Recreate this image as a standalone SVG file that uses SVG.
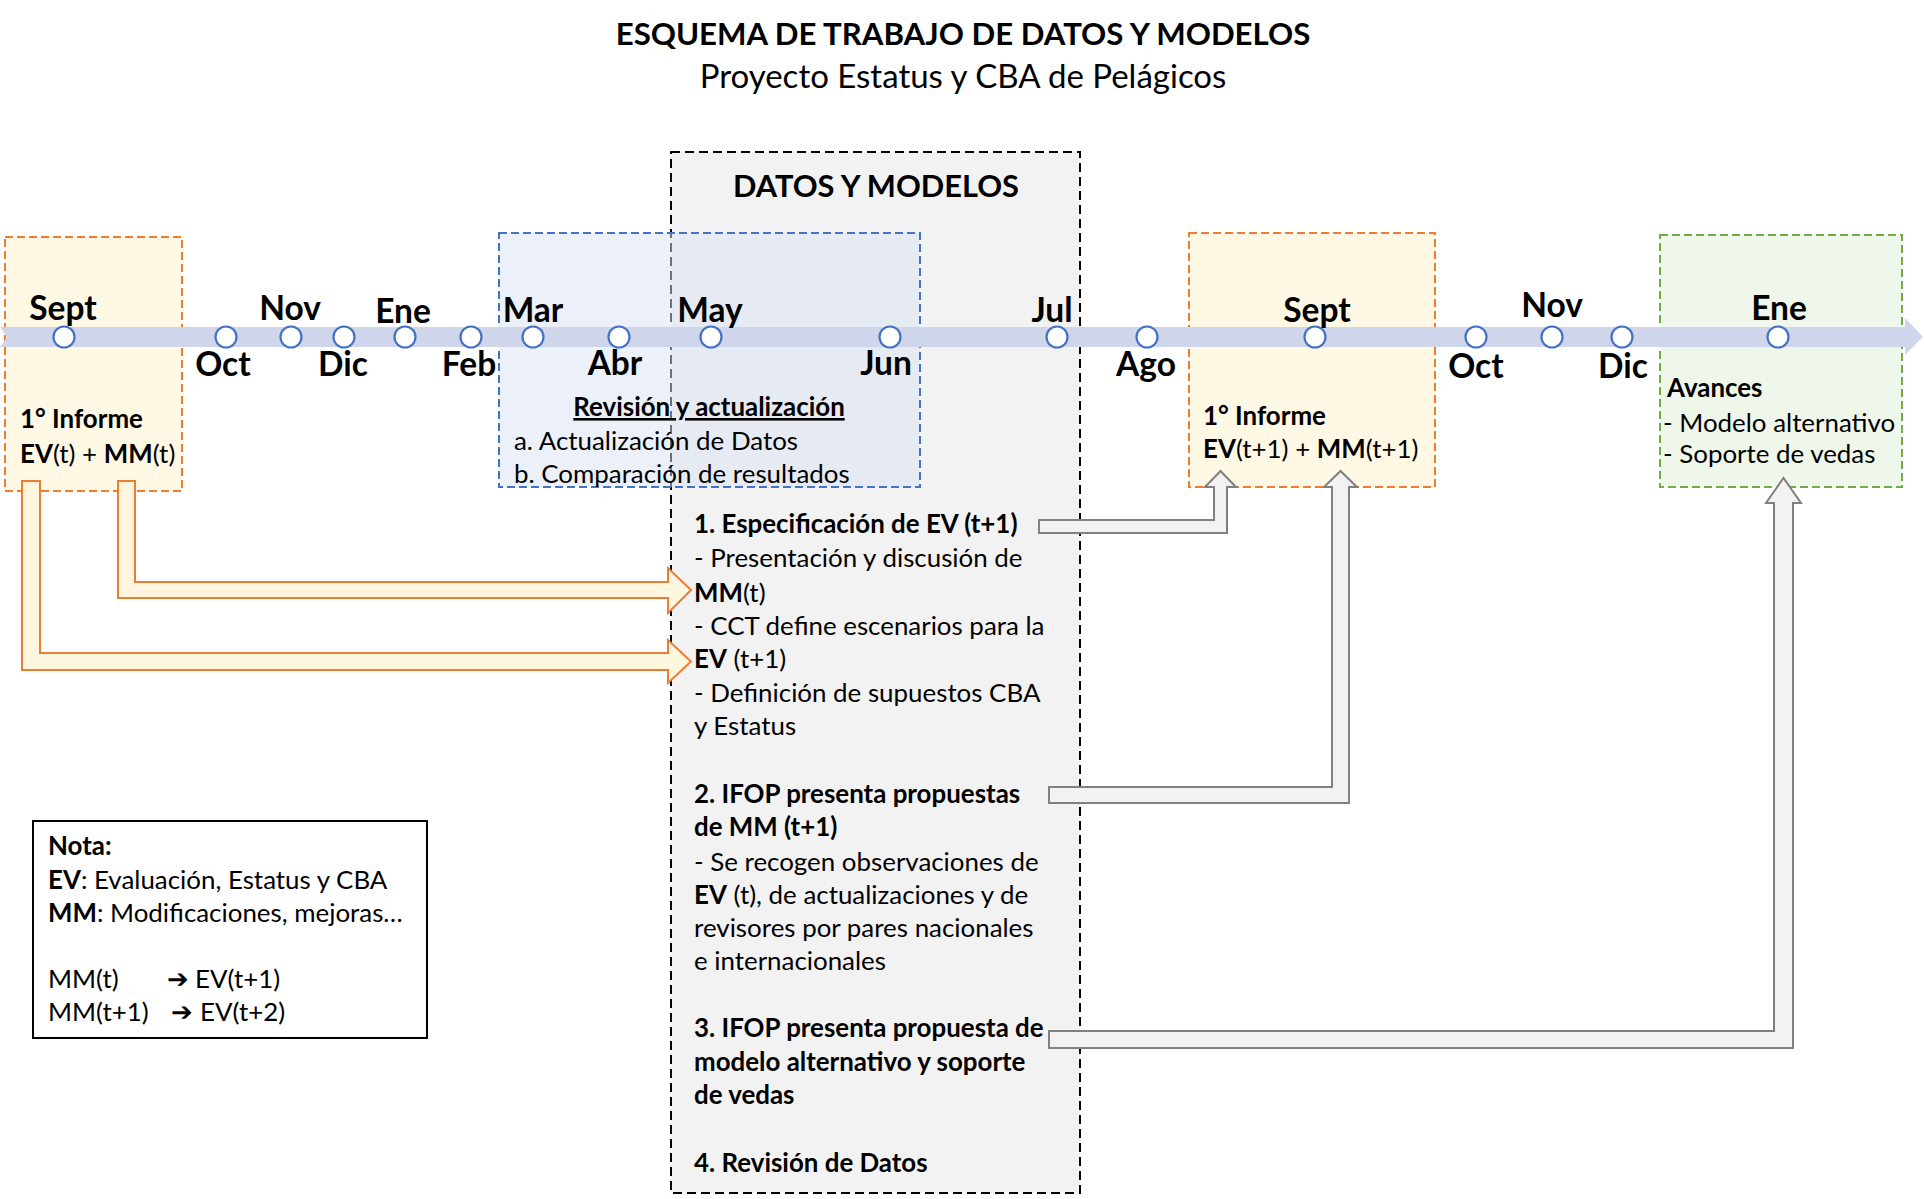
<svg xmlns="http://www.w3.org/2000/svg" width="1924" height="1199" viewBox="0 0 1924 1199">
<style>
text { font-family: Lato, "DejaVu Sans", sans-serif; fill: #000; }
.b { font-weight: 700; }
.t { font-size: 25.9px; }
.mon { font-size: 33.5px; font-weight: 700; text-anchor: middle; }
.box-o { fill: #fff8e5; stroke: #ed7d31; stroke-width: 2; stroke-dasharray: 8 4; }
.box-g { fill: #eff6ea; stroke: #70ad47; stroke-width: 2; stroke-dasharray: 8 4; }
.box-b { fill: #dae3f3; fill-opacity: 0.5; stroke: #4472c4; stroke-width: 2; stroke-dasharray: 8 4; }
.box-k { fill: #f2f2f2; stroke: #000; stroke-width: 2; stroke-dasharray: 9 5; }
.dot { fill: #fff; stroke: #4472c4; stroke-width: 2.2; }
.arr-o { fill: #fff6df; stroke: #ed7d31; stroke-width: 2; stroke-linejoin: miter; }
.arr-g { fill: #f2f2f2; stroke: #808080; stroke-width: 2; stroke-linejoin: miter; }
</style>
<rect x="0" y="0" width="1924" height="1199" fill="#fff"/>

<g id="title">
<text x="963" y="45" class="b" font-size="31.2" text-anchor="middle">ESQUEMA DE TRABAJO DE DATOS Y MODELOS</text>
<text x="963" y="88" font-size="33" text-anchor="middle">Proyecto Estatus y CBA de Pelágicos</text>
</g>

<g id="datos-modelos">
<rect class="box-k" x="671" y="152" width="409" height="1041"/>
<text x="876" y="197" class="b" font-size="30.8" text-anchor="middle">DATOS Y MODELOS</text>
<text class="t" x="694"><tspan class="b" x="694" y="533">1. Especificación de EV (t+1)</tspan><tspan x="694" y="567">- Presentación y discusión de</tspan><tspan x="694" y="602"><tspan class="b">MM</tspan>(t)</tspan><tspan x="694" y="635">- CCT define escenarios para la</tspan><tspan x="694" y="668"><tspan class="b">EV</tspan> (t+1)</tspan><tspan x="694" y="702">- Definición de supuestos CBA</tspan><tspan x="694" y="735">y Estatus</tspan><tspan class="b" x="694" y="803">2. IFOP presenta propuestas</tspan><tspan class="b" x="694" y="836">de MM (t+1)</tspan><tspan x="694" y="871">- Se recogen observaciones de</tspan><tspan x="694" y="904"><tspan class="b">EV</tspan> (t), de actualizaciones y de</tspan><tspan x="694" y="937">revisores por pares nacionales</tspan><tspan x="694" y="970">e internacionales</tspan><tspan class="b" x="694" y="1037">3. IFOP presenta propuesta de</tspan><tspan class="b" x="694" y="1071">modelo alternativo y soporte</tspan><tspan class="b" x="694" y="1104">de vedas</tspan><tspan class="b" x="694" y="1172">4. Revisión de Datos</tspan></text>
</g>

<g id="revision">
<rect class="box-b" x="499" y="233" width="421" height="254"/>
<text class="t b" x="709" y="416" text-anchor="middle" text-decoration="underline">Revisión y actualización</text>
<text class="t" x="514" y="450">a. Actualización de Datos</text>
<text class="t" x="514" y="483">b. Comparación de resultados</text>
</g>

<g id="informe-t">
<rect class="box-o" x="5" y="237" width="177" height="254"/>
<text class="t b" x="20" y="428">1° Informe</text>
<text class="t" x="20" y="463"><tspan class="b">EV</tspan>(t) + <tspan class="b">MM</tspan>(t)</text>
</g>

<g id="informe-t1">
<rect class="box-o" x="1189" y="233" width="246" height="254"/>
<text class="t b" x="1203" y="425">1° Informe</text>
<text class="t" x="1203" y="458"><tspan class="b">EV</tspan>(t+1) + <tspan class="b">MM</tspan>(t+1)</text>
</g>

<g id="avances">
<rect class="box-g" x="1660" y="235" width="242" height="252"/>
<text class="t b" x="1667" y="397">Avances</text>
<text class="t" x="1663" y="432">- Modelo alternativo</text>
<text class="t" x="1663" y="463">- Soporte de vedas</text>
</g>

<g id="timeline">
<path d="M0,327 H1905 V318 L1923,337 L1905,355 V347 H0 L7,337 Z" fill="#cfd5ea"/>
<circle class="dot" cx="64" cy="337" r="10.5"/>
<circle class="dot" cx="226" cy="337" r="10.5"/>
<circle class="dot" cx="291" cy="337" r="10.5"/>
<circle class="dot" cx="344" cy="337" r="10.5"/>
<circle class="dot" cx="405" cy="337" r="10.5"/>
<circle class="dot" cx="471" cy="337" r="10.5"/>
<circle class="dot" cx="533" cy="337" r="10.5"/>
<circle class="dot" cx="619" cy="337" r="10.5"/>
<circle class="dot" cx="711" cy="337" r="10.5"/>
<circle class="dot" cx="890" cy="337" r="10.5"/>
<circle class="dot" cx="1057" cy="337" r="10.5"/>
<circle class="dot" cx="1147" cy="337" r="10.5"/>
<circle class="dot" cx="1315" cy="337" r="10.5"/>
<circle class="dot" cx="1476" cy="337" r="10.5"/>
<circle class="dot" cx="1552" cy="337" r="10.5"/>
<circle class="dot" cx="1622" cy="337" r="10.5"/>
<circle class="dot" cx="1778" cy="337" r="10.5"/>
<text class="mon" x="63" y="320">Sept</text>
<text class="mon" x="290" y="320">Nov</text>
<text class="mon" x="403" y="323">Ene</text>
<text class="mon" x="533" y="322">Mar</text>
<text class="mon" x="710" y="322">May</text>
<text class="mon" x="1052" y="322">Jul</text>
<text class="mon" x="1317" y="322">Sept</text>
<text class="mon" x="1552" y="317">Nov</text>
<text class="mon" x="1779" y="320">Ene</text>
<text class="mon" x="223" y="376">Oct</text>
<text class="mon" x="343" y="376">Dic</text>
<text class="mon" x="469" y="376">Feb</text>
<text class="mon" x="615" y="375">Abr</text>
<text class="mon" x="886" y="375">Jun</text>
<text class="mon" x="1146" y="376">Ago</text>
<text class="mon" x="1476" y="378">Oct</text>
<text class="mon" x="1623" y="378">Dic</text>
</g>

<g id="nota">
<rect x="33" y="821" width="394" height="217" fill="#fff" stroke="#000" stroke-width="2"/>
<text class="t b" x="48" y="855">Nota:</text>
<text class="t" x="48" y="889"><tspan class="b">EV</tspan>: Evaluación, Estatus y CBA</text>
<text class="t" x="48" y="922"><tspan class="b">MM</tspan>: Modificaciones, mejoras…</text>
<text class="t" x="48" y="988">MM(t)</text>
<text class="t b" x="167" y="988">➔</text>
<text class="t" x="195" y="988">EV(t+1)</text>
<text class="t" x="48" y="1021">MM(t+1)</text>
<text class="t b" x="171" y="1021">➔</text>
<text class="t" x="200" y="1021">EV(t+2)</text>
</g>

<g id="connectors">
<path class="arr-o" d="M118,481 H135 V582 H668 V568 L691,590 L668,613 V598 H118 Z"/>
<path class="arr-o" d="M22,481 H40 V653 H668 V640 L691,661.5 L668,683 V670 H22 Z"/>
<path class="arr-g" d="M1039,520 H1214 V487 H1205 L1220.5,471 L1236,487 H1227 V533 H1039 Z"/>
<path class="arr-g" d="M1049,787 H1332 V487 H1324 L1340.5,471 L1357,487 H1349 V803 H1049 Z"/>
<path class="arr-g" d="M1049,1031 H1774 V503 H1766 L1783.5,478 L1801,503 H1793 V1048 H1049 Z"/>
</g>
</svg>
